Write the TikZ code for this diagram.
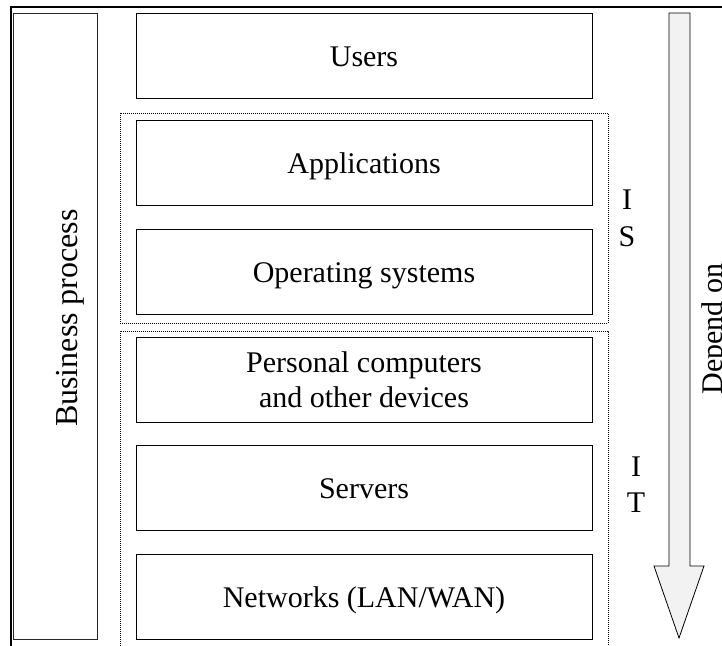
\documentclass[tikz,border=0pt]{standalone}
\usepackage{fontspec}
\setmainfont{Liberation Serif}
\begin{document}
\begin{tikzpicture}[x=1pt,y=-1pt,
  layerbox/.style={draw=black, line width=0.9pt, minimum width=456pt, minimum height=85pt, inner sep=0pt, font=\fontsize{30}{35}\selectfont},
  oneline/.style={layerbox, text height=21pt, text depth=0pt},
  grp/.style={line width=0.8pt, dash pattern=on 1pt off 1pt},
  lbl/.style={font=\fontsize{30}{35}\selectfont, inner sep=0pt}]
\useasboundingbox (0,0) rectangle (722,645);
\clip (0,0) rectangle (722,645);
% outer frame (only top and left visible)
\draw[line width=2.5pt] (11,670) -- (11,7) -- (740,7);
% business process column
\node[draw=black!85, line width=0.9pt, minimum width=84pt, minimum height=626pt, inner sep=0pt] (bp) at (55,326) {};
\node[lbl, font=\fontsize{32}{38}\selectfont, rotate=90, anchor=base] (bpt) at (77,318) {Business process};
% groups
\draw[grp] (120,113) rectangle (608,323);
\draw[grp] (120,670) -- (120,331) -- (608,331) -- (608,670);
% layers
\node[oneline] (users) at (364,55.5) {Users};
\node[oneline] (apps) at (364,163) {Applications};
\node[oneline] (os) at (364,271.5) {Operating systems};
\node[layerbox, align=center] (pc) at (364,380) {Personal computers\\and other devices};
\node[oneline] (srv) at (364,488) {Servers};
\node[oneline] (net) at (364,596.5) {Networks (LAN/WAN)};
% group labels
\node[lbl, align=center, anchor=north] (is) at (627,190) {I\\[2pt]S};
\node[lbl, align=center, anchor=north] (it) at (636,457) {I\\[1pt]T};
% dependency arrow
\draw[line width=0.8pt, fill=black!5] (669,13) -- (690,13) -- (690,566) -- (704,566) -- (679,638) -- (654,566) -- (669,566) -- cycle;
\node[lbl, rotate=90, anchor=base] (dep) at (722,329) {Depend on};
\end{tikzpicture}
\end{document}
